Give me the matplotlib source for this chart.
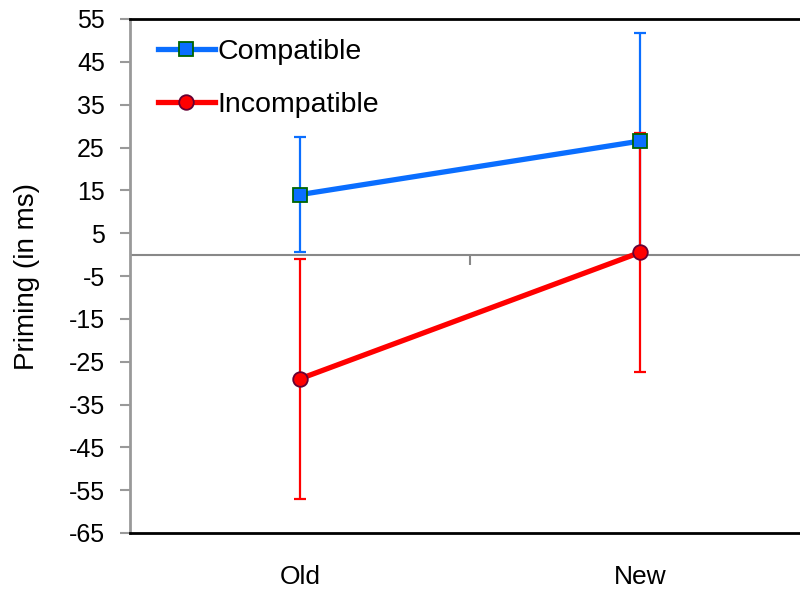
import matplotlib
matplotlib.use("Agg")
import matplotlib.pyplot as plt
import numpy as np

plt.rcParams['font.family'] = ['Liberation Sans', 'DejaVu Sans']

categories = ["Old", "New"]
compatible = [14.0, 26.5]
compatible_err = [13.5, 25.2]
incompatible = [-29.0, 0.5]
incompatible_err = [28.0, 28.0]
yticks = list(range(-65, 56, 10))

fig = plt.figure(figsize=(8, 5.93), dpi=100)
W, H = 800, 593
ax = fig.add_axes([130 / W, (H - 533) / H, 680 / W, (533 - 19) / H])

x = np.arange(len(categories)) + 0.5

blue = '#0A6EFF'
red = '#FF0000'

ax.axhline(0, color='#888888', lw=1.5, zorder=1)

ax.errorbar(x, compatible, yerr=compatible_err, fmt='none',
            ecolor=blue, elinewidth=1.6, capsize=4.5, capthick=1.6, zorder=2)
ax.errorbar(x, incompatible, yerr=incompatible_err, fmt='none',
            ecolor=red, elinewidth=1.6, capsize=4.5, capthick=1.6, zorder=4)
ax.plot(x, compatible, color=blue, lw=3.8,
        marker='s', ms=10, mfc=blue, mec='#006600', mew=1.3,
        label='Compatible', zorder=6)
ax.plot(x, incompatible, color=red, lw=3.8,
        marker='o', ms=10.5, mfc=red, mec='#660033', mew=1.3,
        label='Incompatible', zorder=5)

ax.set_xlim(0, 2)
ax.set_ylim(-65, 55)
ax.set_yticks(yticks)
ax.set_yticklabels([str(t) for t in yticks], fontsize=18)
ax.set_xticks(x)
ax.set_xticklabels(categories, fontsize=19)
ax.tick_params(axis='x', length=0, pad=23)
ax.tick_params(axis='y', length=7, width=1.5, color='#999999', direction='out', pad=11)

ax.spines['left'].set_color('#999999')
ax.spines['left'].set_linewidth(2)
ax.spines['top'].set_color('black')
ax.spines['top'].set_linewidth(2)
ax.spines['bottom'].set_color('black')
ax.spines['bottom'].set_linewidth(2)
ax.spines['right'].set_visible(False)

# category separator tick on the zero axis
sec = ax.secondary_xaxis(65 / 120)
for s in sec.spines.values():
    s.set_visible(False)
sec.set_xticks([1.0])
sec.set_xticklabels([''])
sec.tick_params(axis='x', which='both', length=7, width=1.5, color='#888888',
                direction='in', top=True, bottom=False)

ax.set_ylabel('Priming (in ms)', fontsize=20, labelpad=21)

leg = ax.legend(loc='upper left', bbox_to_anchor=(0.041, 0.961), frameon=False,
                fontsize=20.5, handlelength=2.0, handletextpad=0.1,
                labelspacing=0.93, numpoints=1, borderpad=0, borderaxespad=0)

fig.savefig('out.png', dpi=100)
